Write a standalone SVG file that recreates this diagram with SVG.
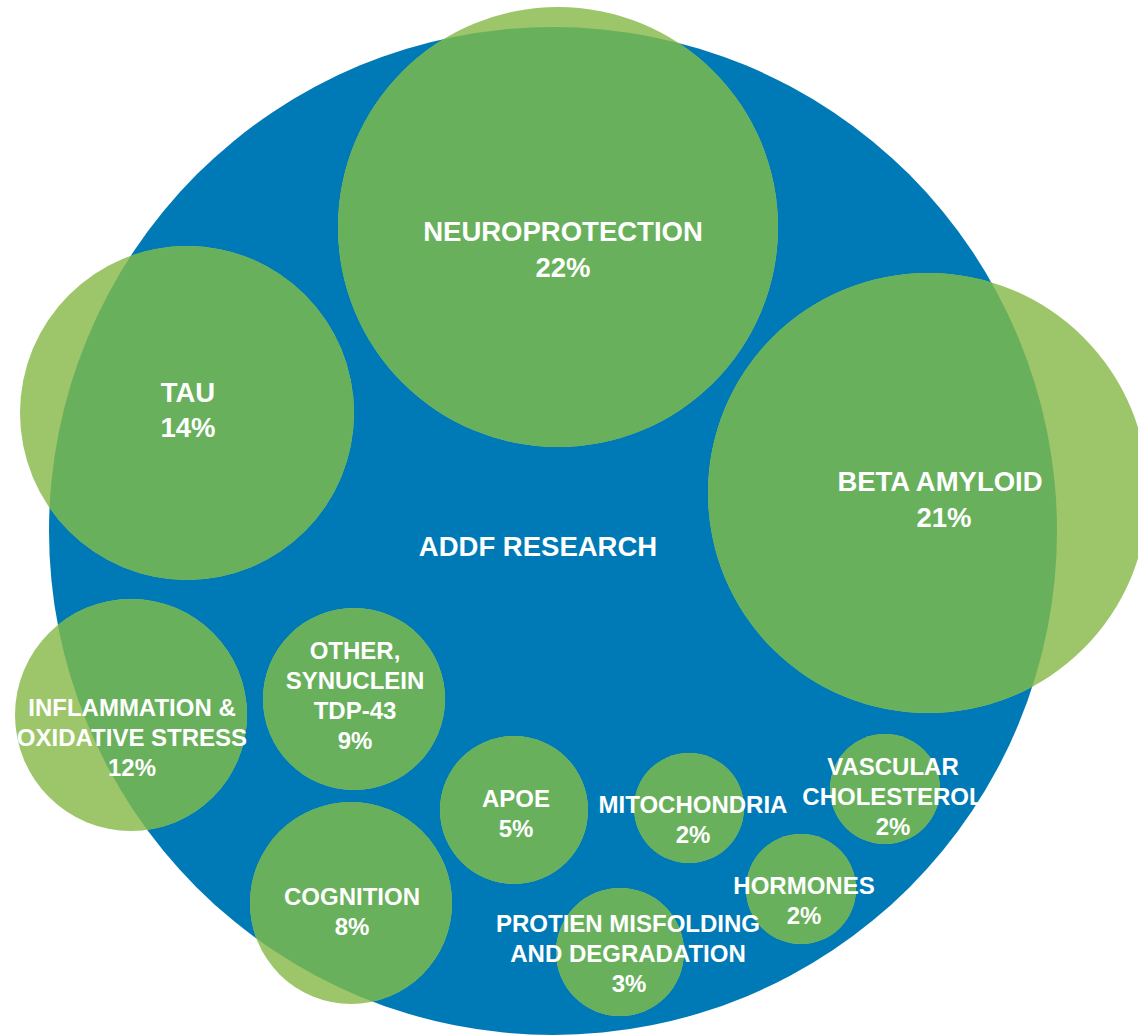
<svg xmlns="http://www.w3.org/2000/svg" width="1138" height="1036" viewBox="0 0 1138 1036">
<defs>
<clipPath id="inBlue"><circle cx="553" cy="531" r="504"/></clipPath>
<style>
.out{fill:#9dc66b}
.in{fill:#69b05c}
text{font-family:"Liberation Sans",Arial,Helvetica,sans-serif;font-weight:bold;fill:#ffffff;text-anchor:middle}
.big{font-size:27.5px}
.sm{font-size:24px}
</style>
</defs>
<rect width="1138" height="1036" fill="#ffffff"/>
<g id="addf-research">
<circle cx="553" cy="531" r="504" fill="#007ab6"/>
<text class="big" x="538" y="556">ADDF RESEARCH</text>
</g>
<g id="connectors"/>
<g id="neuroprotection">
<circle class="out" cx="558" cy="227" r="220"/>
<circle class="in" cx="558" cy="227" r="220" clip-path="url(#inBlue)"/>
<text class="big" x="563" y="241">NEUROPROTECTION</text>
<text class="big" x="563" y="277">22%</text>
</g>
<g id="tau">
<circle class="out" cx="187" cy="413" r="167"/>
<circle class="in" cx="187" cy="413" r="167" clip-path="url(#inBlue)"/>
<text class="big" x="188" y="402">TAU</text>
<text class="big" x="188" y="437">14%</text>
</g>
<g id="beta-amyloid">
<circle class="out" cx="928" cy="493" r="220"/>
<circle class="in" cx="928" cy="493" r="220" clip-path="url(#inBlue)"/>
<text class="big" x="940" y="491">BETA AMYLOID</text>
<text class="big" x="944" y="527">21%</text>
</g>
<g id="inflammation">
<circle class="out" cx="131" cy="715" r="116"/>
<circle class="in" cx="131" cy="715" r="116" clip-path="url(#inBlue)"/>
<text class="sm" x="132" y="716">INFLAMMATION &amp;</text>
<text class="sm" x="132" y="746">OXIDATIVE STRESS</text>
<text class="sm" x="132" y="776">12%</text>
</g>
<g id="other">
<circle class="out" cx="354" cy="699" r="91"/>
<circle class="in" cx="354" cy="699" r="91" clip-path="url(#inBlue)"/>
<text class="sm" x="355" y="659">OTHER,</text>
<text class="sm" x="355" y="689">SYNUCLEIN</text>
<text class="sm" x="355" y="719">TDP-43</text>
<text class="sm" x="355" y="749">9%</text>
</g>
<g id="cognition">
<circle class="out" cx="351" cy="903" r="101"/>
<circle class="in" cx="351" cy="903" r="101" clip-path="url(#inBlue)"/>
<text class="sm" x="352" y="905">COGNITION</text>
<text class="sm" x="352" y="935">8%</text>
</g>
<g id="apoe">
<circle class="out" cx="514" cy="810" r="74"/>
<circle class="in" cx="514" cy="810" r="74" clip-path="url(#inBlue)"/>
<text class="sm" x="516" y="807">APOE</text>
<text class="sm" x="516" y="837">5%</text>
</g>
<g id="mitochondria">
<circle class="out" cx="689" cy="808" r="55"/>
<circle class="in" cx="689" cy="808" r="55" clip-path="url(#inBlue)"/>
<text class="sm" x="693" y="813">MITOCHONDRIA</text>
<text class="sm" x="693" y="843">2%</text>
</g>
<g id="vascular">
<circle class="out" cx="885" cy="789" r="55"/>
<circle class="in" cx="885" cy="789" r="55" clip-path="url(#inBlue)"/>
<text class="sm" x="893" y="775">VASCULAR</text>
<text class="sm" x="893" y="805">CHOLESTEROL</text>
<text class="sm" x="893" y="835">2%</text>
</g>
<g id="hormones">
<circle class="out" cx="801" cy="889" r="55"/>
<circle class="in" cx="801" cy="889" r="55" clip-path="url(#inBlue)"/>
<text class="sm" x="804" y="894">HORMONES</text>
<text class="sm" x="804" y="924">2%</text>
</g>
<g id="protein-misfolding">
<circle class="out" cx="620" cy="952" r="64"/>
<circle class="in" cx="620" cy="952" r="64" clip-path="url(#inBlue)"/>
<text class="sm" x="628" y="932">PROTIEN MISFOLDING</text>
<text class="sm" x="628" y="962">AND DEGRADATION</text>
<text class="sm" x="629" y="992">3%</text>
</g>
</svg>
